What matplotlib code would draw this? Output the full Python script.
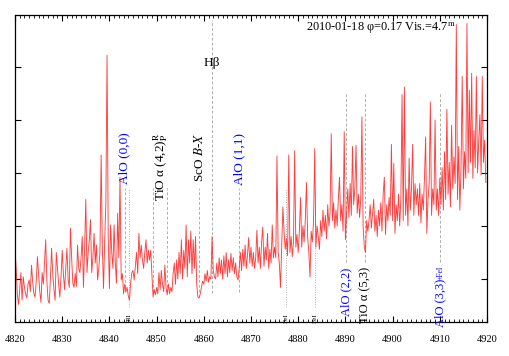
import numpy as np
import matplotlib
matplotlib.use("Agg")
import matplotlib.pyplot as plt
from matplotlib.ticker import MultipleLocator

plt.rcParams['font.family'] = ['Liberation Serif', 'DejaVu Serif']
plt.rcParams['mathtext.fontset'] = 'stix'

# ---------------- data ----------------
wave_start = 4820.0
wave_step = 0.25
flux = [
    1.27, 1.10, 0.85, 0.76, 0.90, 1.06, 0.80, 1.02, 0.92, 0.86, 0.82, 0.95, 0.99, 0.88, 1.13, 0.97, 0.86, 0.83, 0.98, 1.21,
    1.05, 0.88, 0.78, 1.06, 0.95, 1.15, 1.37, 0.98, 0.80, 0.77, 1.00, 1.29, 1.05, 0.90, 0.80, 1.25, 1.10, 0.95, 0.83, 1.02,
    1.27, 1.05, 0.90, 1.10, 1.29, 1.00, 0.92, 1.48, 1.20, 0.96, 0.92, 1.05, 0.93, 1.32, 1.10, 1.06, 1.20, 1.40, 0.92, 1.30,
    1.75, 1.06, 1.25, 1.37, 1.56, 1.06, 1.20, 1.43, 1.15, 1.32, 0.99, 1.10, 1.25, 2.17, 1.30, 0.91, 1.35, 1.72, 3.11, 1.40,
    0.91, 1.51, 1.25, 1.10, 1.51, 1.15, 0.96, 1.62, 1.20, 1.96, 0.99, 1.05, 0.86, 0.95, 0.88, 0.92, 0.84, 0.80, 0.96, 1.06,
    1.08, 0.99, 1.12, 1.25, 1.05, 1.43, 1.20, 1.32, 1.18, 1.10, 1.25, 1.37, 1.15, 1.27, 1.18, 1.27, 1.05, 0.83, 0.90, 0.85,
    0.92, 0.86, 1.06, 0.90, 1.08, 0.95, 0.88, 1.13, 0.92, 0.85, 0.95, 0.86, 0.92, 0.88, 1.05, 1.15, 0.95, 1.18, 1.00, 1.25,
    1.05, 1.37, 1.00, 1.27, 1.10, 1.51, 1.02, 1.37, 1.15, 1.45, 1.05, 1.37, 1.10, 1.40, 0.95, 0.83, 0.82, 0.86, 0.92, 0.98,
    0.95, 1.05, 0.98, 1.08, 0.97, 1.02, 1.00, 1.40, 1.08, 1.02, 1.00, 1.15, 1.02, 1.20, 1.05, 1.18, 1.00, 1.22, 1.05, 1.25,
    1.02, 1.18, 1.06, 1.24, 1.08, 1.20, 1.05, 1.15, 1.02, 0.99, 1.10, 1.25, 1.08, 1.28, 1.12, 1.32, 1.10, 1.22, 1.39, 1.15,
    1.30, 1.12, 1.25, 1.10, 1.20, 1.46, 1.15, 1.30, 1.10, 1.35, 1.49, 1.12, 1.30, 1.18, 1.43, 1.10, 1.28, 1.15, 1.51, 1.20,
    1.30, 1.20, 2.16, 1.25, 1.15, 0.92, 1.30, 1.68, 1.45, 1.28, 1.38, 1.22, 2.17, 1.25, 1.40, 1.21, 1.35, 2.21, 1.30, 1.42,
    1.25, 1.45, 1.77, 1.30, 1.50, 1.35, 1.55, 1.91, 1.40, 1.25, 1.02, 1.45, 1.35, 1.55, 2.23, 1.30, 1.50, 1.40, 1.28, 1.55,
    1.40, 1.65, 1.45, 1.60, 1.38, 1.70, 1.50, 1.62, 2.37, 1.55, 1.72, 1.48, 1.65, 1.50, 1.75, 1.96, 1.55, 1.70, 1.45, 2.39,
    1.37, 1.62, 1.85, 1.58, 1.90, 1.60, 2.25, 1.70, 1.85, 2.26, 1.62, 1.80, 1.58, 1.75, 2.53, 1.50, 1.30, 1.25, 1.55, 1.45,
    1.55, 1.70, 1.48, 1.62, 1.75, 1.45, 1.60, 1.40, 1.65, 1.50, 1.72, 1.45, 1.80, 1.96, 1.42, 1.70, 1.55, 1.77, 1.60, 2.27,
    1.55, 2.09, 1.43, 1.70, 1.55, 1.80, 1.50, 1.75, 2.74, 1.55, 2.81, 1.60, 1.85, 1.50, 2.14, 1.65, 1.85, 2.27, 1.60, 1.90,
    1.70, 1.85, 1.60, 1.90, 1.53, 1.80, 1.65, 1.95, 2.34, 1.43, 1.75, 1.90, 2.67, 1.60, 1.85, 1.70, 2.50, 1.65, 1.85, 1.60,
    1.95, 1.70, 2.05, 1.65, 2.20, 1.75, 2.60, 1.80, 2.10, 1.68, 2.45, 1.85, 2.15, 1.90, 3.40, 1.75, 2.25, 1.65, 2.05, 2.91,
    1.85, 2.20, 1.95, 3.41, 2.00, 2.78, 2.10, 2.94, 1.95, 2.40, 2.05, 2.91, 2.00, 2.30, 2.55, 1.98, 2.91, 2.10, 2.31, 1.91,
]
wave = wave_start + wave_step * np.arange(len(flux))

# line identifications
upper_lines = [4843.3, 4849.3, 4852.3, 4859.0, 4867.5]
tii_line = [4844.2]
fei_lines = [4877.4, 4883.6]
hbeta_line = 4861.8
lower_lines = [4890.1, 4894.2, 4910.0]

upper_labels = [
    (4843.1, 'AlO (0,0)', 'blue'),
    (4850.9, r'TiO α (4,2)$^{\mathrm{R}}_{\mathrm{P}}$', 'black'),
    (4859.0, r'ScO $B$-$X$', 'black'),
    (4867.5, 'AlO (1,1)', 'blue'),
]
lower_labels = [
    (4890.1, 'AlO (2,2)', 'blue'),
    (4894.2, 'TiO α (5,3)', 'black'),
]
title_text = r'2010-01-18 φ=0.17 Vis.=4.7$^{\mathrm{m}}$'

# ---------------- figure ----------------
fig = plt.figure(figsize=(5.09, 3.56), dpi=100)
ax = fig.add_axes([15/509, 1 - 322/356, 472/509, 307/356])
ax.set_xlim(4820, 4920)
ax.set_ylim(0.594, 3.49)

grey = '#b0b0b0'
for w in upper_lines:
    ax.plot([w, w], [0.88, 1.86], color=grey, lw=0.7, ls=(0, (3, 2)), zorder=1)
for w in tii_line:
    ax.plot([w, w], [0.74, 1.86], color=grey, lw=0.7, ls=(0, (1, 1.5)), zorder=1)
for w in fei_lines:
    ax.plot([w, w], [0.74, 1.86], color=grey, lw=0.7, ls=(0, (1, 1.5)), zorder=1)
ax.plot([hbeta_line, hbeta_line], [0.87, 3.44], color=grey, lw=0.7, ls=(0, (3, 2)), zorder=1)
for w in lower_lines:
    ax.plot([w, w], [1.16, 2.75], color=grey, lw=0.7, ls=(0, (3, 2)), zorder=1)

ax.plot(wave, flux, color='#ff2a2a', lw=0.65, alpha=0.9, zorder=2)

for x, t, c in upper_labels:
    ax.text(x, 2.38, t, rotation=90, ha='center', va='top', color=c, fontsize=9.5)
for x, t, c in lower_labels:
    ax.text(x, 1.11, t, rotation=90, ha='center', va='top', color=c, fontsize=9)
ax.text(4910.0, 1.0, 'AlO (3,3)', rotation=90, ha='center', va='top', color='blue', fontsize=9)
ax.text(4910.2, 1.13, '+FeI', rotation=90, ha='center', va='top', color='blue', fontsize=5.5)

small_fs = 5.3
ax.text(4844.3, 0.63, 'TiI', rotation=90, ha='center', va='center', fontsize=small_fs)
for w in fei_lines:
    ax.text(w, 0.63, 'FeI', rotation=90, ha='center', va='center', fontsize=small_fs)

ax.text(hbeta_line, 3.04, 'Hβ', ha='center', va='center', fontsize=9.5)
ax.text(0.934, 0.955, title_text, transform=ax.transAxes, ha='right', va='center', fontsize=8.8)

ax.xaxis.set_major_locator(MultipleLocator(10))
ax.xaxis.set_minor_locator(MultipleLocator(1))
ax.set_yticks([1.0, 1.5, 2.0, 2.5, 3.0])
ax.tick_params(axis='both', which='both', direction='in', top=True, right=True)
ax.tick_params(axis='x', which='major', length=4, width=0.8, labelsize=7.5, pad=9)
ax.tick_params(axis='x', which='minor', length=2, width=0.6)
ax.tick_params(axis='y', which='major', length=4, width=0.8, labelleft=False)
for s in ax.spines.values():
    s.set_linewidth(0.9)

fig.savefig('out.png', dpi=100)
